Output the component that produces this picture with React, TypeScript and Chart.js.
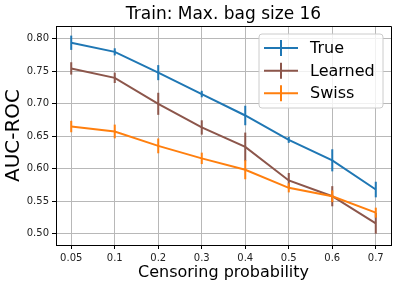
import React, { useEffect, useRef } from "react";
import { Chart, registerables } from "chart.js";

Chart.register(...registerables);

const categories = ["0.05", "0.1", "0.2", "0.3", "0.4", "0.5", "0.6", "0.7"];
const yTicks = [0.5, 0.55, 0.6, 0.65, 0.7, 0.75, 0.8];

const trueVals = [0.794, 0.78, 0.748, 0.715, 0.682, 0.6445, 0.613, 0.568];
const trueErr = [0.011, 0.0055, 0.0116, 0.005, 0.015, 0.0046, 0.017, 0.012];
const learnedVals = [0.7545, 0.74, 0.7, 0.6636, 0.6337, 0.582, 0.5577, 0.516];
const learnedErr = [0.0095, 0.008, 0.017, 0.011, 0.022, 0.0115, 0.0155, 0.016];
const swissVals = [0.665, 0.6574, 0.6352, 0.616, 0.5985, 0.5706, 0.5577, 0.5324];
const swissErr = [0.0088, 0.0106, 0.0114, 0.0088, 0.0147, 0.007, 0.009, 0.0077];

const seriesNames = ["True", "Learned", "Swiss"];
const seriesColors = ["#1f77b4", "#8c564b", "#ff7f0e"];
const seriesVals = [trueVals, learnedVals, swissVals];
const seriesErrs = [trueErr, learnedErr, swissErr];

const titleText = "Train: Max. bag size 16";
const xTitle = "Censoring probability";
const yTitle = "AUC-ROC";

const FONT = "'DejaVu Sans', sans-serif";

const decorPlugin = {
  id: "decor",
  afterDatasetDraw(chart: any, args: any) {
    const ds = chart.data.datasets[args.index];
    const errs: number[] = ds.errs;
    const vals: number[] = ds.vals;
    const ys = chart.scales.y;
    const ctx = chart.ctx;
    ctx.save();
    ctx.strokeStyle = ds.borderColor;
    ctx.lineWidth = 2;
    ctx.lineCap = "butt";
    args.meta.data.forEach((pt: any, i: number) => {
      const y1 = ys.getPixelForValue(vals[i] - errs[i]);
      const y2 = ys.getPixelForValue(vals[i] + errs[i]);
      ctx.beginPath();
      ctx.moveTo(pt.x, y1);
      ctx.lineTo(pt.x, y2);
      ctx.stroke();
    });
    ctx.restore();
  },
  afterDraw(chart: any) {
    const ctx = chart.ctx;
    const a = chart.chartArea;
    ctx.save();
    // top & right border
    ctx.strokeStyle = "#000";
    ctx.lineWidth = 1;
    ctx.beginPath();
    ctx.moveTo(a.left, a.top + 0.5);
    ctx.lineTo(a.right + 0.5, a.top + 0.5);
    ctx.lineTo(a.right + 0.5, a.bottom);
    ctx.stroke();

    // title
    ctx.fillStyle = "#000";
    ctx.textAlign = "center";
    ctx.textBaseline = "middle";
    ctx.font = `17px ${FONT}`;
    ctx.fillText(titleText, (a.left + a.right) / 2, 15);

    // x title
    ctx.font = `16px ${FONT}`;
    ctx.fillText(xTitle, (a.left + a.right) / 2, 273);

    // y title
    ctx.save();
    ctx.font = `20px ${FONT}`;
    ctx.translate(14, (a.top + a.bottom) / 2);
    ctx.rotate(-Math.PI / 2);
    ctx.fillText(yTitle, 0, 0);
    ctx.restore();

    // legend
    const bx = 259, by = 34, bw = 124, bh = 74, r = 3;
    ctx.beginPath();
    ctx.moveTo(bx + r, by);
    ctx.lineTo(bx + bw - r, by);
    ctx.quadraticCurveTo(bx + bw, by, bx + bw, by + r);
    ctx.lineTo(bx + bw, by + bh - r);
    ctx.quadraticCurveTo(bx + bw, by + bh, bx + bw - r, by + bh);
    ctx.lineTo(bx + r, by + bh);
    ctx.quadraticCurveTo(bx, by + bh, bx, by + bh - r);
    ctx.lineTo(bx, by + r);
    ctx.quadraticCurveTo(bx, by, bx + r, by);
    ctx.closePath();
    ctx.fillStyle = "rgba(255,255,255,0.8)";
    ctx.fill();
    ctx.strokeStyle = "#cccccc";
    ctx.lineWidth = 1;
    ctx.stroke();

    const rows = [48, 70.7, 93.3];
    seriesNames.forEach((name, i) => {
      const ry = rows[i];
      ctx.strokeStyle = seriesColors[i];
      ctx.lineWidth = 2;
      ctx.beginPath();
      ctx.moveTo(264, ry);
      ctx.lineTo(298, ry);
      ctx.moveTo(281, ry - 8);
      ctx.lineTo(281, ry + 8);
      ctx.stroke();
      ctx.fillStyle = "#000";
      ctx.textAlign = "left";
      ctx.textBaseline = "middle";
      ctx.font = `16px ${FONT}`;
      ctx.fillText(name, 310, ry + 1);
    });
    ctx.restore();
  },
};

export default function App() {
  const ref = useRef<HTMLCanvasElement>(null);
  useEffect(() => {
    if (!ref.current) return;
    const gridColor = "#b8b8b8";
    const chart = new Chart(ref.current, {
      type: "line",
      data: {
        datasets: seriesNames.map((name, s) => ({
          label: name,
          data: seriesVals[s].map((v, i) => ({ x: i, y: v })),
          vals: seriesVals[s],
          errs: seriesErrs[s],
          borderColor: seriesColors[s],
          backgroundColor: seriesColors[s],
          borderWidth: 2,
          pointRadius: 0,
          tension: 0,
          fill: false,
          order: 3 - s,
        })) as any,
      },
      options: {
        animation: false,
        responsive: false,
        devicePixelRatio: 1,
        layout: { padding: { top: 26, right: 10, left: 0, bottom: 0 } },
        plugins: { legend: { display: false }, tooltip: { enabled: false } },
        scales: {
          x: {
            type: "linear",
            min: -0.35,
            max: 7.35,
            afterBuildTicks: (s: any) => {
              s.ticks = categories.map((_, i) => ({ value: i }));
            },
            afterFit: (s: any) => {
              s.height = 42;
            },
            ticks: {
              callback: (v: any) => categories[Math.round(Number(v))],
              autoSkip: false,
              maxRotation: 0,
              color: "#222",
              padding: 3,
              font: { size: 10, family: FONT },
            },
            grid: { color: gridColor, tickColor: "#000", tickLength: 4, lineWidth: 1 },
            border: { display: true, color: "#000", width: 1 },
          },
          y: {
            type: "linear",
            min: 0.4826,
            max: 0.8198,
            afterBuildTicks: (s: any) => {
              s.ticks = yTicks.map((v) => ({ value: v }));
            },
            afterFit: (s: any) => {
              s.width = 56;
            },
            ticks: {
              callback: (v: any) => Number(v).toFixed(2),
              color: "#222",
              padding: 3,
              font: { size: 10, family: FONT },
            },
            grid: { color: gridColor, tickColor: "#000", tickLength: 4, lineWidth: 1 },
            border: { display: true, color: "#000", width: 1 },
          },
        },
      } as any,
      plugins: [decorPlugin],
    });
    return () => chart.destroy();
  }, []);
  return (
    <div style={{ position: "fixed", left: 0, top: 0, width: 401, height: 287, background: "#fff" }}>
      <canvas ref={ref} width={401} height={287} style={{ display: "block", width: 401, height: 287 }} />
    </div>
  );
}
